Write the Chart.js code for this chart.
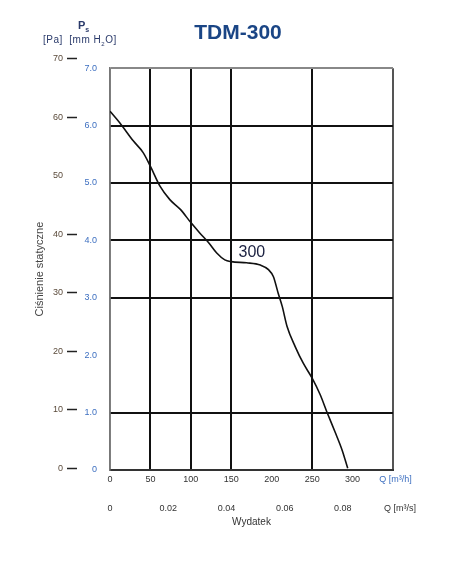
<!DOCTYPE html>
<html>
<head>
<meta charset="utf-8">
<script src="https://cdn.jsdelivr.net/npm/chart.js@4/dist/chart.umd.min.js"></script>
<style>
  html, body { margin: 0; padding: 0; background: #fff; }
  #wrap { position: relative; width: 476px; height: 570px; }
  .hdr { position: absolute; font-family: 'Liberation Sans', Arial, sans-serif; color: #2a3a6a; white-space: nowrap; }
  #ps { left: 78px; top: 19px; font-size: 11px; font-weight: bold; }
  #units { left: 43px; top: 34px; font-size: 10px; letter-spacing: 0.5px; }
</style>
</head>
<body>
<div id="wrap">
  <canvas id="fanChart" width="476" height="570"></canvas>
  <div class="hdr" id="ps">P<sub style="font-size:7px">s</sub></div>
  <div class="hdr" id="units">[Pa]&nbsp; [mm H<sub style="font-size:6px">2</sub>O]</div>
</div>
<script>
  // curve TDM-300
  const flowM3h = [0, 12, 29, 41, 50, 62, 74, 87, 100, 111, 122, 132, 142, 150, 169, 186, 196, 202, 208, 213, 219, 229, 239, 250, 260, 268, 279, 287, 294];
  const pressMm = [6.25, 6.05, 5.73, 5.53, 5.29, 4.94, 4.71, 4.54, 4.31, 4.13, 3.96, 3.78, 3.66, 3.63, 3.61, 3.57, 3.49, 3.37, 3.08, 2.85, 2.50, 2.15, 1.86, 1.60, 1.31, 1.02, 0.64, 0.35, 0.03];

  // axis ticks
  const paTicks = [0, 10, 20, 30, 40, 50, 60, 70];
  const m3sTicks = [0, 0.02, 0.04, 0.06, 0.08];
  const hiddenFlowLines = [200, 300];
  const hiddenPressLines = [2];

  const FLOW_MAX = 350;
  const M3S_UNIT_POS = 0.0996; // where the "Q [m³/s]" caption sits
  const FONT = "'Liberation Sans', Arial, sans-serif";

  const points = flowM3h.map((q, i) => ({ x: q, y: pressMm[i] }));

  // label next to the curve
  const curveLabel = {
    id: 'curveLabel',
    afterDatasetsDraw(chart) {
      const { ctx, scales } = chart;
      ctx.save();
      ctx.font = '16px ' + FONT;
      ctx.fillStyle = '#1a2040';
      ctx.textAlign = 'center';
      ctx.textBaseline = 'middle';
      ctx.fillText('300', scales.x.getPixelForValue(175.5), scales.y.getPixelForValue(3.79));
      ctx.restore();
    }
  };

  new Chart(document.getElementById('fanChart'), {
    type: 'scatter',
    data: {
      datasets: [{
        data: points,
        showLine: true,
        borderColor: '#111',
        borderWidth: 1.6,
        pointRadius: 0,
        cubicInterpolationMode: 'monotone',
        xAxisID: 'x',
        yAxisID: 'y'
      }]
    },
    options: {
      responsive: false,
      animation: false,
      layout: { padding: { left: 0, right: 0, top: 0, bottom: 40 } },
      plugins: {
        legend: { display: false },
        tooltip: { enabled: false },
        title: {
          display: true,
          text: 'TDM-300',
          color: '#1a4585',
          font: { family: FONT, size: 21, weight: 'bold' },
          padding: { top: 21, bottom: 22 }
        }
      },
      scales: {
        x: {
          type: 'linear',
          position: 'bottom',
          weight: 0,
          min: 0,
          max: FLOW_MAX,
          afterFit: (s) => { s.height = 22; },
          ticks: {
            stepSize: 50,
            autoSkip: false,
            maxRotation: 0,
            padding: 4,
            font: { family: FONT, size: 9 },
            color: (c) => (c.tick.value === FLOW_MAX ? '#3d6fc0' : '#333'),
            callback: (v) => (v === FLOW_MAX ? '  Q [m³/h]' : String(v))
          },
          grid: {
            drawTicks: false,
            lineWidth: 2,
            color: (c) => {
              const v = c.tick.value;
              if (hiddenFlowLines.includes(v)) return 'rgba(0,0,0,0)';
              if (v === 0) return '#888';
              if (v === FLOW_MAX) return '#555';
              return '#111';
            }
          },
          border: { display: true, color: '#333', width: 2 }
        },
        xs: {
          type: 'linear',
          position: 'bottom',
          weight: 1,
          min: 0,
          max: FLOW_MAX / 3600,
          afterFit: (s) => { s.height = 38; },
          afterBuildTicks: (s) => {
            s.ticks = m3sTicks.concat([M3S_UNIT_POS]).map((v) => ({ value: v }));
          },
          ticks: {
            autoSkip: false,
            maxRotation: 0,
            padding: 11,
            font: { family: FONT, size: 9 },
            color: '#333',
            callback: (v) => {
              if (v === 0) return '0';
              if (v > 0.09) return 'Q [m³/s]';
              return v.toFixed(2);
            }
          },
          grid: { display: false, drawTicks: false },
          border: { display: false },
          title: {
            display: true,
            text: 'Wydatek',
            color: '#333',
            font: { family: FONT, size: 10 },
            padding: { top: 0, bottom: 2 }
          }
        },
        y: {
          type: 'linear',
          position: 'left',
          weight: 0,
          min: 0,
          max: 7,
          afterFit: (s) => { s.width = 33; },
          ticks: {
            stepSize: 1,
            padding: 13,
            font: { family: FONT, size: 9 },
            color: '#3d6fc0',
            callback: (v) => (v === 0 ? '0' : v.toFixed(1))
          },
          grid: {
            drawTicks: false,
            lineWidth: 2,
            color: (c) => {
              const v = c.tick.value;
              if (hiddenPressLines.includes(v)) return 'rgba(0,0,0,0)';
              if (v === 7) return '#888';
              return '#111';
            }
          },
          border: { display: true, color: '#777', width: 1.5 }
        },
        pa: {
          type: 'linear',
          position: 'left',
          weight: 1,
          min: -0.3,
          max: 68.4,
          afterFit: (s) => { s.width = 77; },
          afterBuildTicks: (s) => {
            s.ticks = paTicks.map((v) => ({ value: v }));
          },
          ticks: {
            padding: 4,
            font: { family: FONT, size: 9 },
            color: '#5a4a3a'
          },
          grid: {
            drawOnChartArea: false,
            drawTicks: true,
            tickLength: 10,
            tickWidth: 1.5,
            tickColor: (c) => (c.tick.value === 50 ? 'rgba(0,0,0,0)' : '#222')
          },
          border: { display: false },
          title: {
            display: true,
            text: 'Ciśnienie statyczne',
            color: '#444',
            font: { family: FONT, size: 11 },
            padding: { top: 33, bottom: 0 }
          }
        },
        // empty right-hand strip, keeps the plot at its place and the title centred
        gap: {
          type: 'linear',
          position: 'right',
          display: true,
          afterFit: (s) => { s.width = 83; },
          ticks: { display: false },
          grid: { display: false, drawTicks: false },
          border: { display: false }
        }
      }
    },
    plugins: [curveLabel]
  });
</script>
</body>
</html>
